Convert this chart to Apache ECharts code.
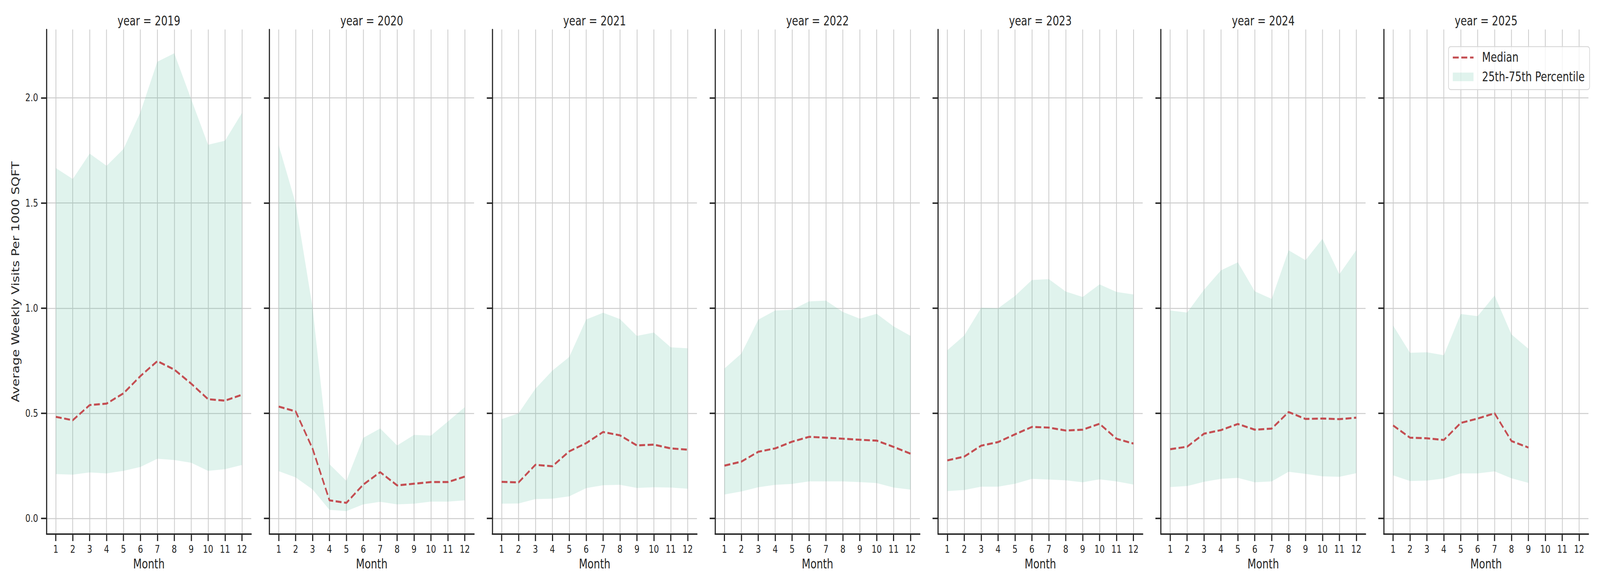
<!DOCTYPE html>
<html>
<head>
<meta charset="utf-8">
<script src="https://cdn.jsdelivr.net/npm/echarts@6/dist/echarts.min.js"></script>
<style>
  html, body { margin: 0; padding: 0; background: #fff; overflow: hidden; }
  #wrap { position: absolute; left: 0; top: 0; width: 5250px; height: 1500px; transform-origin: 0 0; }
  #chart { width: 5250px; height: 1500px; }
</style>
</head>
<body>
<div id="wrap"><div id="chart"></div></div>
<script>
// 各年份、月份、刻度
var years = [2019, 2020, 2021, 2022, 2023, 2024, 2025];
var months = [1, 2, 3, 4, 5, 6, 7, 8, 9, 10, 11, 12];
var yTicks = [0, 0.5, 1.0, 1.5, 2.0];

// 中位数与 25/75 分位
var median2019 = [0.483, 0.467, 0.539, 0.546, 0.595, 0.677, 0.748, 0.708, 0.641, 0.567, 0.560, 0.588];
var low2019 = [0.211, 0.208, 0.219, 0.214, 0.226, 0.245, 0.284, 0.278, 0.265, 0.226, 0.234, 0.254];
var high2019 = [1.666, 1.614, 1.735, 1.677, 1.757, 1.932, 2.172, 2.212, 1.994, 1.777, 1.796, 1.928];

var median2020 = [0.532, 0.509, 0.332, 0.086, 0.074, 0.161, 0.220, 0.157, 0.165, 0.173, 0.173, 0.199];
var low2020 = [0.225, 0.195, 0.138, 0.041, 0.035, 0.067, 0.079, 0.067, 0.070, 0.080, 0.080, 0.086];
var high2020 = [1.775, 1.499, 1.004, 0.258, 0.179, 0.383, 0.428, 0.347, 0.397, 0.394, 0.461, 0.529];

var median2021 = [0.174, 0.171, 0.255, 0.248, 0.319, 0.358, 0.411, 0.395, 0.347, 0.351, 0.333, 0.327];
var low2021 = [0.070, 0.071, 0.092, 0.094, 0.105, 0.144, 0.158, 0.160, 0.145, 0.148, 0.147, 0.141];
var high2021 = [0.472, 0.500, 0.617, 0.703, 0.768, 0.946, 0.978, 0.948, 0.868, 0.884, 0.814, 0.809];

var median2022 = [0.251, 0.270, 0.317, 0.333, 0.365, 0.388, 0.384, 0.379, 0.374, 0.370, 0.340, 0.308];
var low2022 = [0.114, 0.128, 0.148, 0.160, 0.164, 0.176, 0.176, 0.176, 0.173, 0.168, 0.147, 0.137];
var high2022 = [0.713, 0.784, 0.945, 0.989, 0.992, 1.032, 1.036, 0.982, 0.950, 0.973, 0.913, 0.868];

var median2023 = [0.276, 0.294, 0.346, 0.363, 0.400, 0.435, 0.432, 0.418, 0.422, 0.450, 0.379, 0.356];
var low2023 = [0.130, 0.135, 0.151, 0.151, 0.165, 0.188, 0.185, 0.181, 0.172, 0.186, 0.176, 0.161];
var high2023 = [0.800, 0.870, 1.002, 0.999, 1.058, 1.134, 1.138, 1.079, 1.053, 1.113, 1.077, 1.065];

var median2024 = [0.329, 0.341, 0.403, 0.420, 0.449, 0.422, 0.427, 0.506, 0.473, 0.475, 0.472, 0.479];
var low2024 = [0.149, 0.154, 0.174, 0.188, 0.193, 0.172, 0.176, 0.222, 0.212, 0.200, 0.198, 0.215];
var high2024 = [0.989, 0.979, 1.088, 1.180, 1.218, 1.080, 1.044, 1.275, 1.228, 1.330, 1.161, 1.276];

var median2025 = [0.442, 0.384, 0.381, 0.373, 0.454, 0.475, 0.500, 0.368, 0.337];
var low2025 = [0.205, 0.178, 0.180, 0.190, 0.214, 0.214, 0.224, 0.191, 0.169];
var high2025 = [0.918, 0.788, 0.790, 0.776, 0.972, 0.962, 1.060, 0.875, 0.807];

var medians = [median2019, median2020, median2021, median2022, median2023, median2024, median2025];
var lows = [low2019, low2020, low2021, low2022, low2023, low2024, low2025];
var highs = [high2019, high2020, high2021, high2022, high2023, high2024, high2025];

var FONT = 'DejaVu Sans';
var INK = '#262626';
var GRID_COLOR = '#cccccc';
var BAND = 'rgba(102,194,165,0.2)';
var RED = '#c44e52';

// 窗口比 5250 窄时整体缩放到窗口
var W = 5250, H = 1500;
var sx = (window.innerWidth || W) / W, sy = (window.innerHeight || H) / H;
document.getElementById('wrap').style.transform = 'scale(' + sx + ',' + sy + ')';

var left0 = 152.7, step = 731.3, panelW = 671.6, panelTop = 75.6, panelH = 1291.4;

var grids = [], xAxes = [], yAxes = [], titles = [], series = [];

years.forEach(function (year, i) {
  var left = left0 + i * step;
  grids.push({
    left: left, top: panelTop, width: panelW, height: panelH,
    containLabel: false, outerBoundsMode: 'none'
  });
  titles.push({
    text: 'year = ' + year,
    left: left + panelW / 2, top: 37.4, textAlign: 'center', padding: 0,
    textStyle: { fontFamily: FONT, fontSize: 33, fontWeight: 'normal', color: INK }
  });
  xAxes.push({
    gridIndex: i, type: 'value', min: 0.45, max: 12.55,
    name: 'Month', nameLocation: 'middle', nameGap: 60,
    nameTextStyle: { fontFamily: FONT, fontSize: 33, color: INK },
    axisLine: { show: true, onZero: false, lineStyle: { color: INK, width: 3.75 } },
    axisTick: { show: true, length: 18, customValues: months, lineStyle: { color: INK, width: 3.75 } },
    axisLabel: {
      show: true, customValues: months, margin: 26,
      fontFamily: FONT, fontSize: 26.5, color: INK,
      formatter: function (v) { return String(v); }
    },
    splitLine: { show: true, lineStyle: { color: GRID_COLOR, width: 2.6 } }
  });
  yAxes.push({
    gridIndex: i, type: 'value', min: -0.0743, max: 2.325,
    name: i === 0 ? 'Average Weekly Visits Per 1000 SQFT' : '',
    nameLocation: 'middle', nameGap: 84, nameRotate: 90,
    nameTextStyle: { fontFamily: FONT, fontSize: 33, color: INK },
    axisLine: { show: true, onZero: false, lineStyle: { color: INK, width: 3.75 } },
    axisTick: { show: true, length: 18, customValues: yTicks, lineStyle: { color: INK, width: 3.75 } },
    axisLabel: {
      show: i === 0, customValues: yTicks, margin: 27.6,
      fontFamily: FONT, fontSize: 26.5, color: INK,
      formatter: function (v) { return v.toFixed(1); }
    },
    splitLine: { show: true, lineStyle: { color: GRID_COLOR, width: 2.6 } }
  });

  var lo = lows[i], hi = highs[i];
  // 分位带：上沿正序 + 下沿倒序
  series.push({
    type: 'custom', name: '25th-75th Percentile',
    xAxisIndex: i, yAxisIndex: i, z: 1, silent: true,
    itemStyle: { color: BAND },
    data: [[1, lo[0]]],
    renderItem: function (params, api) {
      var pts = [];
      for (var k = 0; k < hi.length; k++) pts.push(api.coord([k + 1, hi[k]]));
      for (var k2 = lo.length - 1; k2 >= 0; k2--) pts.push(api.coord([k2 + 1, lo[k2]]));
      return { type: 'polygon', shape: { points: pts }, style: { fill: BAND }, silent: true };
    }
  });
  series.push({
    type: 'line', name: 'Median',
    xAxisIndex: i, yAxisIndex: i, z: 3,
    symbol: 'none', showSymbol: false, silent: true,
    lineStyle: { color: RED, width: 5.2, type: [19.3, 8.3] },
    itemStyle: { color: RED },
    data: medians[i].map(function (v, k) { return [k + 1, v]; })
  });
});

// 图例图标：宽度含 23px 空白，以得到图标与文字间距
var medianIcon = 'path://M0,0M91,22M0,8.5h19.5v5h-19.5zM28,8.5h19.5v5h-19.5zM56.5,8.5h11.5v5h-11.5z';
var bandIcon = 'path://M0,0M91,22M0,0h68v22h-68z';

var myChart = echarts.init(document.getElementById('chart'), null, { renderer: 'svg', width: W, height: H });
myChart.setOption({
  animation: false,
  backgroundColor: '#ffffff',
  textStyle: { fontFamily: FONT },
  title: titles,
  grid: grids,
  xAxis: xAxes,
  yAxis: yAxes,
  legend: {
    orient: 'vertical', left: 4753, top: 119.3,
    padding: [11.5, 16, 16, 14], itemGap: 16.5, itemWidth: 91, itemHeight: 22,
    backgroundColor: 'rgba(255,255,255,0.8)', borderColor: '#d6d6d6', borderWidth: 2.2, borderRadius: 7,
    selectedMode: false,
    textStyle: { fontFamily: FONT, fontSize: 33, color: INK },
    itemStyle: { borderWidth: 0 },
    data: [
      { name: 'Median', icon: medianIcon, itemStyle: { color: RED, borderWidth: 0 } },
      { name: '25th-75th Percentile', icon: bandIcon, itemStyle: { color: BAND, borderWidth: 0 } }
    ]
  },
  series: series
});
</script>
</body>
</html>
